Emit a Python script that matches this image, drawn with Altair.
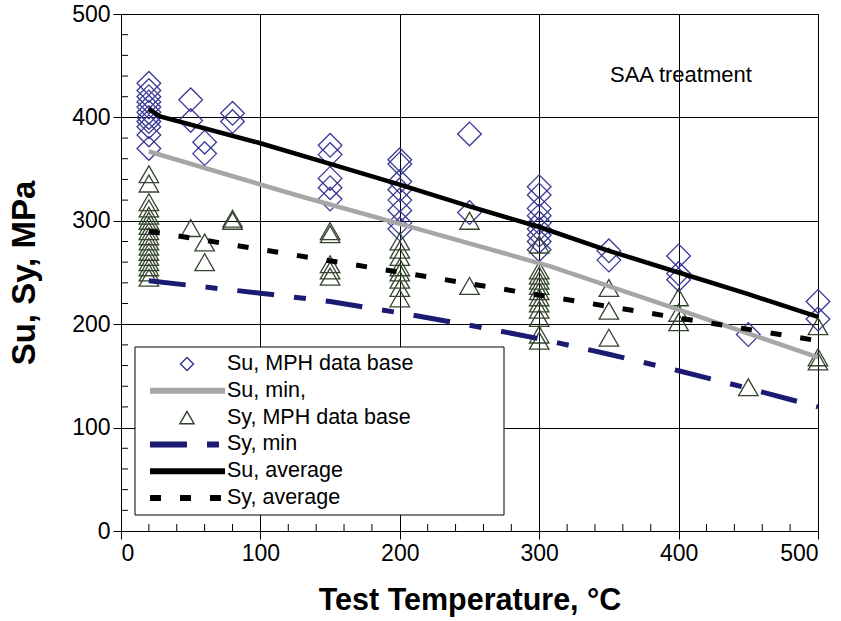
import altair as alt
import pandas as pd

FONT = "Liberation Sans"

# ---------------- data ----------------
su_temps = [20, 50, 60, 80, 150, 200, 250, 300, 350, 400, 450, 500]
su_values = [
    [433, 426, 420, 415, 410, 405, 400, 396, 391, 383, 370],
    [417, 397],
    [376, 365],
    [404, 396],
    [373, 364, 341, 332, 321],
    [359, 355, 338, 330, 320, 310, 298, 292],
    [384, 308],
    [333, 325, 312, 305, 298, 292, 286, 280, 272],
    [271, 262],
    [266, 249, 243],
    [190],
    [222, 205],
]
sy_temps = [20, 50, 60, 80, 150, 200, 250, 300, 350, 400, 450, 500]
sy_values = [
    [345, 336, 318, 312, 305, 300, 295, 290, 285, 280, 275, 270, 265, 260, 255, 250, 245],
    [293],
    [279, 260],
    [302, 300],
    [290, 287, 258, 252, 246],
    [280, 272, 265, 255, 250, 243, 235, 225],
    [300, 237],
    [277, 252, 247, 242, 237, 232, 226, 220, 214, 206, 190, 184],
    [235, 213, 187],
    [226, 211, 202],
    [139],
    [198, 168, 164],
]

su_avg_T = [20, 28, 100, 150, 200, 250, 300, 350, 400, 450, 500]
su_avg_S = [408, 401, 375, 355, 335, 314, 294, 271, 250, 229, 207]
su_min_T = [20, 128, 200, 308, 400, 500]
su_min_S = [367, 324, 297, 256, 214, 168]
sy_avg_T = [20, 500]
sy_avg_S = [290, 184]
sy_min_T = [20, 100, 150, 200, 250, 300, 350, 400, 450, 500]
sy_min_S = [242, 230, 222, 211, 199, 186, 171, 155, 138, 120]

x_ticks = [0, 100, 200, 300, 400, 500]
y_ticks = [0, 100, 200, 300, 400, 500]
x_minor = [20, 40, 60, 80, 120, 140, 160, 180, 220, 240, 260, 280,
           320, 340, 360, 380, 420, 440, 460, 480]
y_minor = x_minor

legend_labels = ["Su, MPH data base", "Su, min,", "Sy, MPH data base",
                 "Sy, min", "Su, average", "Sy, average"]

# ---------------- styles ----------------
SU_C = "#3b3a96"
SY_C = "#34452f"
GRAY = "#a6a6a6"
NAVY = "#1b1b73"
DASH_MIN = [37, 20, 12, 20]
DASH_AVG = [11, 19]

W, H = 697, 517


def flat(temps, groups):
    T, S = [], []
    for t, g in zip(temps, groups):
        for v in g:
            T.append(t)
            S.append(v)
    return pd.DataFrame({"T": T, "S": S})


su_df = flat(su_temps, su_values)
sy_df = flat(sy_temps, sy_values)

xs = alt.Scale(domain=[0, 500], nice=False, zero=False)
ys = alt.Scale(domain=[0, 500], nice=False, zero=False)

x_axis = alt.Axis(values=x_ticks, title="Test Temperature, °C", format="d",
                  grid=True, gridColor="black", gridOpacity=1, gridWidth=1,
                  domainColor="black", tickColor="black", tickSize=8,
                  labelFont=FONT, labelFontSize=23, labelColor="black", labelPadding=3,
                  titleFont=FONT, titleFontSize=30.5, titleFontWeight="bold",
                  titleColor="black", titlePadding=20)
y_axis = alt.Axis(values=y_ticks, title="Su, Sy, MPa", format="d",
                  grid=True, gridColor="black", gridOpacity=1, gridWidth=1,
                  domainColor="black", tickColor="black", tickSize=8,
                  labelFont=FONT, labelFontSize=23, labelColor="black", labelPadding=3,
                  titleFont=FONT, titleFontSize=33, titleFontWeight="bold",
                  titleColor="black", titlePadding=30)

su_pts = alt.Chart(su_df).mark_point(
    shape="diamond", filled=False, size=560, strokeWidth=1.3, color=SU_C, opacity=1
).encode(x=alt.X("T:Q", scale=xs, axis=x_axis), y=alt.Y("S:Q", scale=ys, axis=y_axis))

sy_pts = alt.Chart(sy_df).mark_point(
    shape="triangle-up", filled=False, size=380, strokeWidth=1.3, color=SY_C, opacity=1
).encode(x="T:Q", y="S:Q")


def line(T, S, **kw):
    return alt.Chart(pd.DataFrame({"T": T, "S": S})).mark_line(**kw).encode(x="T:Q", y="S:Q")


su_min = line(su_min_T, su_min_S, color=GRAY, strokeWidth=4.5)
sy_min = line(sy_min_T, sy_min_S, color=NAVY, strokeWidth=5, strokeDash=DASH_MIN)
su_avg = line(su_avg_T, su_avg_S, color="black", strokeWidth=4.5)
sy_avg = line(sy_avg_T, sy_avg_S, color="black", strokeWidth=5, strokeDash=DASH_AVG)

xminor = alt.Chart(pd.DataFrame({"T": x_minor})).mark_rule(color="black", strokeWidth=1).encode(
    x="T:Q", y=alt.value(H), y2=alt.value(H - 7))
yminor = alt.Chart(pd.DataFrame({"S": y_minor})).mark_rule(color="black", strokeWidth=1).encode(
    y="S:Q", x=alt.value(0), x2=alt.value(7))

one = pd.DataFrame({"k": [0]})

# ---------------- legend ----------------
LX0, LX1, LY0, LY1 = 14, 383, 333, 501
ROW0, DROW = 350, 26.8
SYM_X0, SYM_X1, SYM_XC, TXT_X = 29, 104, 66, 106

legend_layers = [
    alt.Chart(one).mark_rect(fill="white", stroke="black", strokeWidth=1).encode(
        x=alt.value(LX0), x2=alt.value(LX1), y=alt.value(LY0), y2=alt.value(LY1))
]
styles = [
    ("point", dict(shape="diamond", color=SU_C, size=170)),
    ("rule", dict(color=GRAY, strokeWidth=6)),
    ("point", dict(shape="triangle-up", color=SY_C, size=200)),
    ("rule", dict(color=NAVY, strokeWidth=6, strokeDash=DASH_MIN)),
    ("rule", dict(color="black", strokeWidth=6)),
    ("rule", dict(color="black", strokeWidth=6, strokeDash=DASH_AVG)),
]
for i, (lab, (kind, st)) in enumerate(zip(legend_labels, styles)):
    ry = ROW0 + i * DROW
    if kind == "point":
        legend_layers.append(alt.Chart(one).mark_point(
            filled=False, strokeWidth=1.5, opacity=1, **st).encode(
            x=alt.value(SYM_XC), y=alt.value(ry)))
    else:
        legend_layers.append(alt.Chart(one).mark_rule(**st).encode(
            x=alt.value(SYM_X0), x2=alt.value(SYM_X1), y=alt.value(ry)))
    legend_layers.append(alt.Chart(one).mark_text(
        text=lab, align="left", baseline="middle", font=FONT, fontSize=21.5, color="black").encode(
        x=alt.value(TXT_X), y=alt.value(ry)))

note = alt.Chart(one).mark_text(
    text="SAA treatment", align="left", baseline="middle", font=FONT, fontSize=22, color="black"
).encode(x=alt.value(489), y=alt.value(61))

chart = alt.layer(
    su_pts, sy_pts, su_min, sy_min, su_avg, sy_avg, xminor, yminor, *legend_layers, note
).properties(
    width=W, height=H,
    autosize=alt.AutoSizeParams(type="none"),
    padding={"left": 121, "top": 14, "right": 23, "bottom": 90},
    background="white",
).configure_view(stroke="black", strokeWidth=1)

chart.save("out.html", embed_options={"renderer": "svg", "actions": False})
